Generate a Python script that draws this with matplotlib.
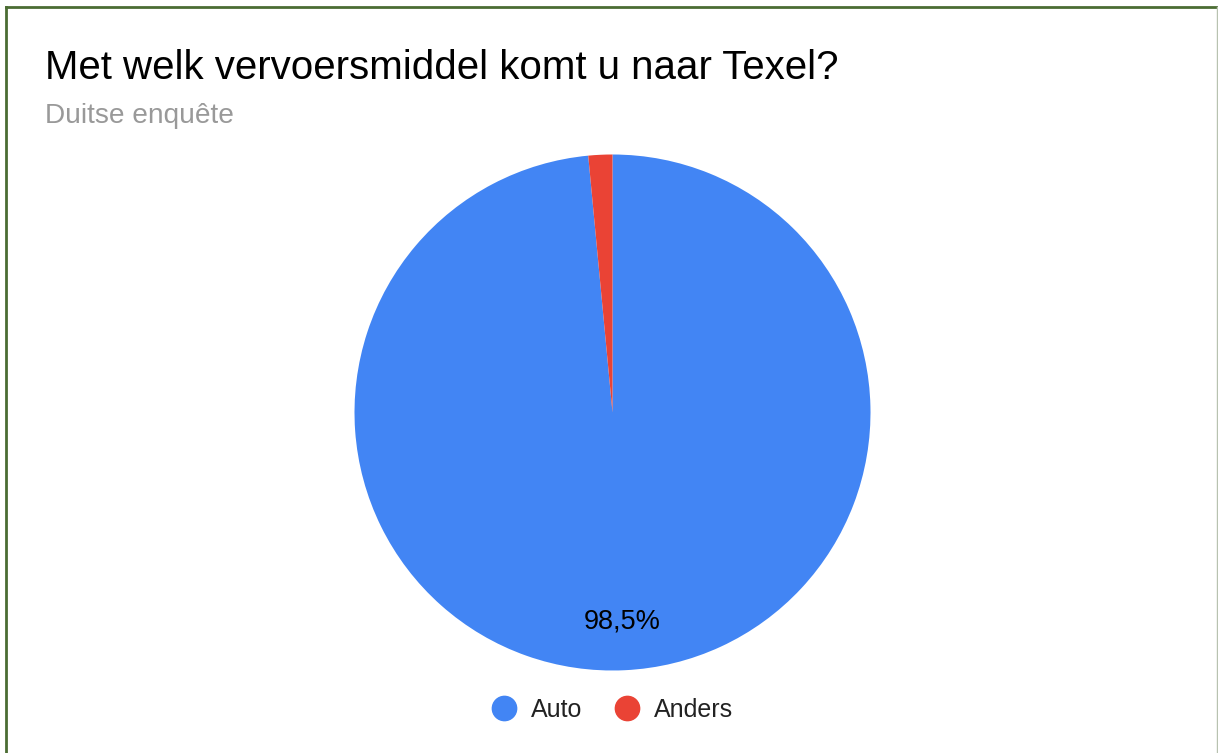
import matplotlib.pyplot as plt
from matplotlib.lines import Line2D

# Survey data
labels = ['Auto', 'Anders']
shares = [98.5, 1.5]
colors = ['#4285F4', '#EA4335']

plt.rcParams['font.family'] = ['Liberation Sans', 'DejaVu Sans']

W, H = 1218, 753
fig = plt.figure(figsize=(W / 100, H / 100), dpi=100)

# pie centered around (612, 412) px with radius ~258 px
cx, cy, r = 612.5, 412.5, 258
ax = fig.add_axes([(cx - r) / W, (H - cy - r) / H, 2 * r / W, 2 * r / H])
wedges, texts, autotexts = ax.pie(
    shares, colors=colors, startangle=90, counterclock=False,
    autopct=lambda p: f'{p:.1f}%'.replace('.', ',') if p > 5 else '',
    pctdistance=0.812, wedgeprops={'linewidth': 0},
    textprops={'fontsize': 19.5, 'color': '#000000'})
ax.set_aspect('equal')
ax.set_xlim(-1, 1)
ax.set_ylim(-1, 1)

# title and subtitle
fig.text(45 / W, 1 - 79 / H, 'Met welk vervoersmiddel komt u naar Texel?',
         fontsize=29, color='#000000', va='baseline', ha='left')
fig.text(45 / W, 1 - 123 / H, 'Duitse enquête',
         fontsize=20.2, color='#999999', va='baseline', ha='left')

# legend
leg_handles = [Line2D([], [], marker='o', linestyle='', markersize=17.5,
                      markerfacecolor=c, markeredgecolor=c) for c in colors]
fig.legend(leg_handles, labels, loc='center', bbox_to_anchor=(612 / W, 1 - 710 / H),
           ncol=2, frameon=False, fontsize=18, handlelength=1.0, handletextpad=0.58,
           columnspacing=1.3, labelcolor='#222222')

# frame around the chart
fig.add_artist(Line2D([6 / W, 1], [1 - 7 / H, 1 - 7 / H], color='#4b6d33', linewidth=2))
fig.add_artist(Line2D([6 / W, 6 / W], [0, 1 - 7 / H], color='#4b6d33', linewidth=2))
fig.add_artist(Line2D([1216.5 / W, 1216.5 / W], [0, 1 - 7 / H], color='#b8c2b0', linewidth=1))

fig.savefig('out.png', dpi=100, facecolor='white')
